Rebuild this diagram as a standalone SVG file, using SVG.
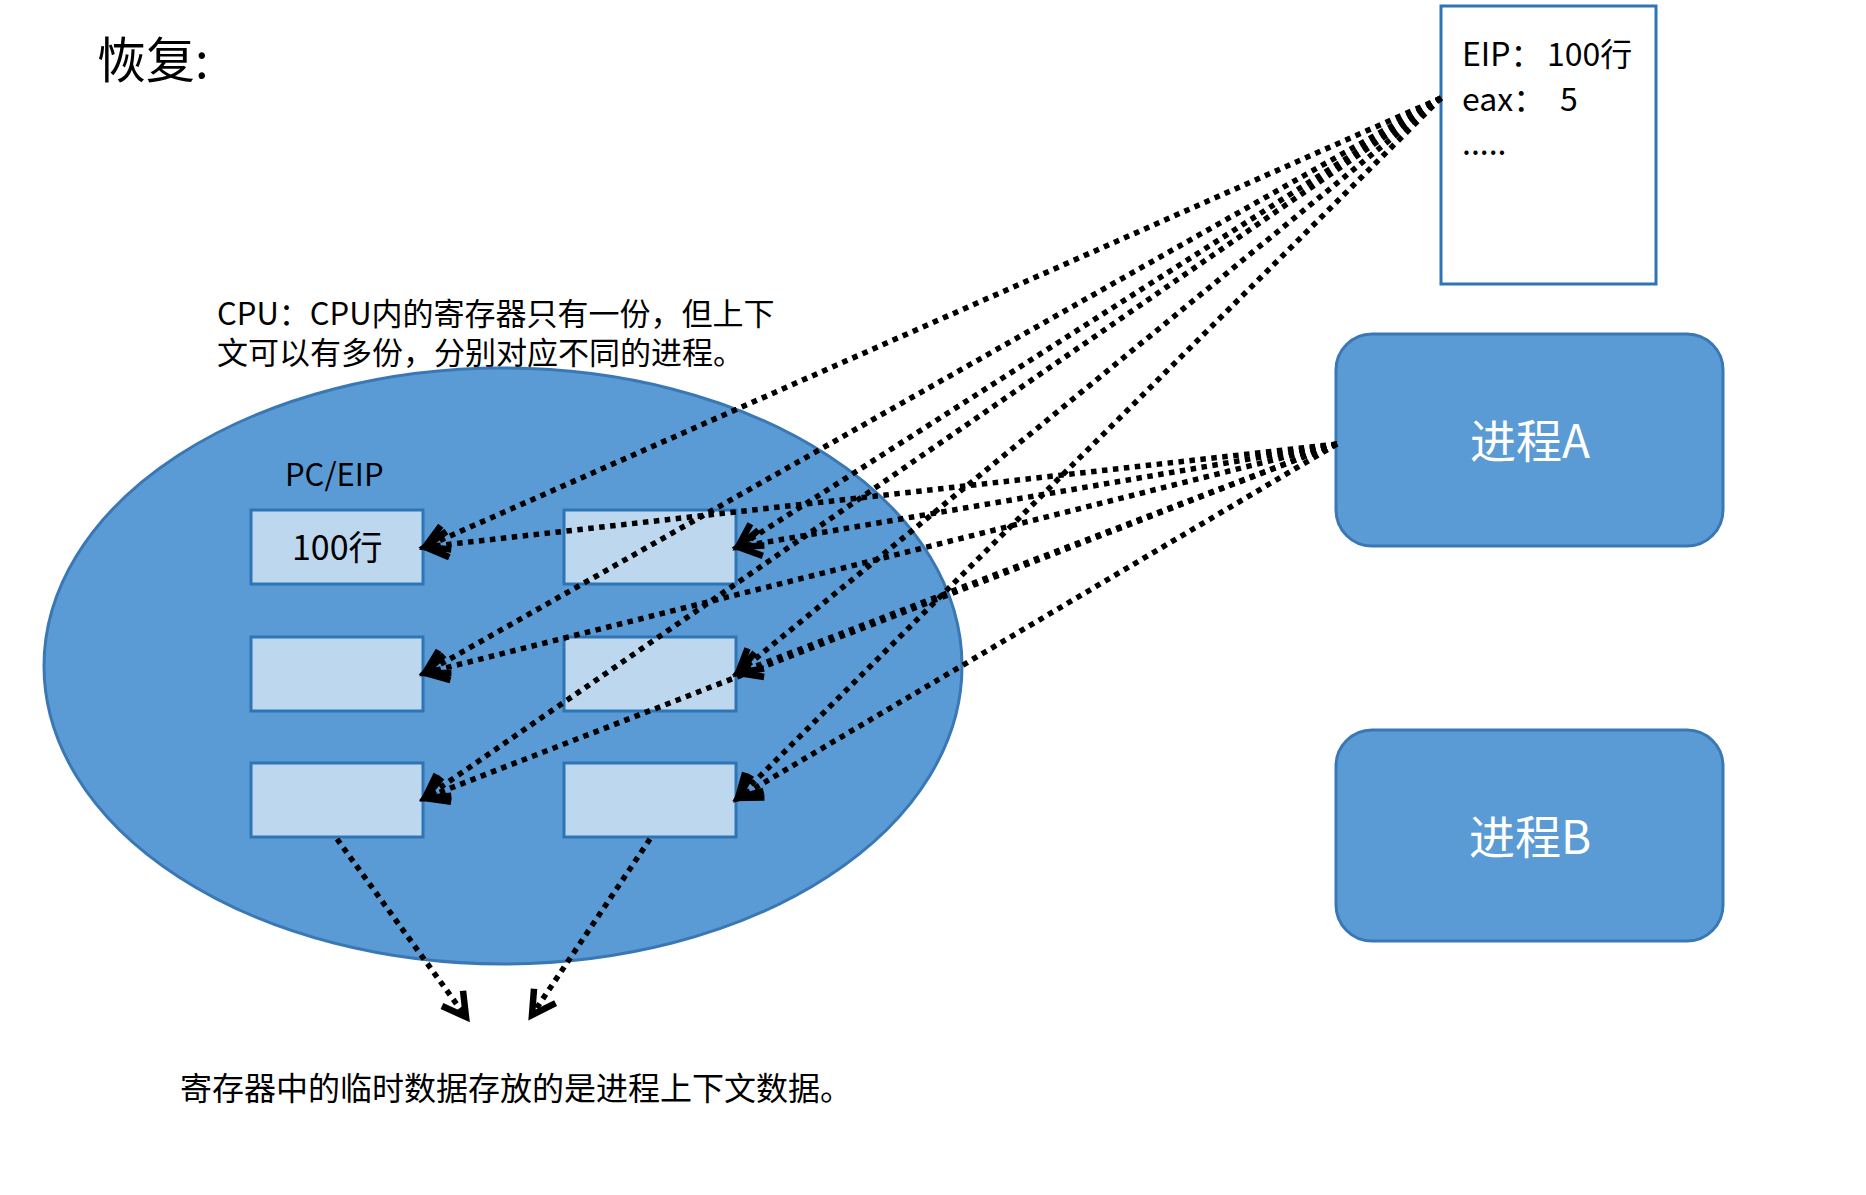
<svg xmlns="http://www.w3.org/2000/svg" width="1866" height="1195" viewBox="0 0 1866 1195">
<style>
text{font-family:"Noto Sans CJK SC","Noto Sans",sans-serif;fill:#000}
.reg{fill:#BDD7EE;stroke:#2E75B6;stroke-width:3}
.proc{fill:#5B9BD5;stroke:#3A78B5;stroke-width:3}
.ptxt{fill:#fff;font-size:46px;text-anchor:middle}
.conn line{stroke:#000;stroke-width:5.5;stroke-dasharray:5.5 5.5;fill:none;marker-end:url(#ah)}
</style>
<defs>
<marker id="ah" markerUnits="userSpaceOnUse" markerWidth="40" markerHeight="40" viewBox="0 0 40 40" refX="30" refY="20" orient="auto">
<path d="M7,7 L30,20 L7,33" fill="none" stroke="#000" stroke-width="6.5" stroke-linejoin="miter"/>
</marker>
</defs>
<rect width="1866" height="1195" fill="#fff"/>
<g id="title"><text x="97" y="78" font-size="49">恢复:</text></g>
<g id="cpu-note">
<text x="217" y="325" font-size="31">CPU：CPU内的寄存器只有一份，但上下<tspan x="217" dy="39">文可以有多份，分别对应不同的进程。</tspan></text>
</g>
<g id="cpu"><ellipse cx="503" cy="666" rx="459" ry="298" fill="#5B9BD5" stroke="#3A78B5" stroke-width="3"/></g>
<g id="pc-label"><text x="285" y="486" font-size="31">PC/EIP</text></g>
<g id="reg-1-1"><rect class="reg" x="251" y="510" width="172" height="74"/><text x="292" y="560" font-size="34">100行</text></g>
<g id="reg-1-2"><rect class="reg" x="564" y="510" width="172" height="74"/></g>
<g id="reg-2-1"><rect class="reg" x="251" y="637" width="172" height="74"/></g>
<g id="reg-2-2"><rect class="reg" x="564" y="637" width="172" height="74"/></g>
<g id="reg-3-1"><rect class="reg" x="251" y="763" width="172" height="74"/></g>
<g id="reg-3-2"><rect class="reg" x="564" y="763" width="172" height="74"/></g>
<g id="context">
<rect x="1441" y="6" width="215" height="278" fill="#fff" stroke="#2E75B6" stroke-width="3"/>
<text x="1462" y="66" font-size="32">EIP：<tspan x="1547">100行</tspan></text>
<text x="1462" y="111" font-size="32">eax：<tspan x="1560">5</tspan></text>
<text x="1462" y="155" font-size="32">.....</text>
</g>
<g id="procA"><rect class="proc" x="1336" y="334" width="387" height="212" rx="36"/><text class="ptxt" x="1530" y="458">进程A</text></g>
<g id="procB"><rect class="proc" x="1336" y="730" width="387" height="211" rx="36"/><text class="ptxt" x="1530" y="854">进程B</text></g>
<g id="note"><text x="180" y="1100" font-size="32">寄存器中的临时数据存放的是进程上下文数据。</text></g>
<g id="connectors" class="conn">
<line x1="1441" y1="98" x2="425" y2="547"/>
<line x1="1441" y1="98" x2="738" y2="547"/>
<line x1="1441" y1="98" x2="425" y2="673"/>
<line x1="1441" y1="98" x2="738" y2="673"/>
<line x1="1441" y1="98" x2="425" y2="798"/>
<line x1="1441" y1="98" x2="738" y2="798"/>
<line x1="1337" y1="444" x2="425" y2="547"/>
<line x1="1337" y1="444" x2="738" y2="547"/>
<line x1="1337" y1="444" x2="425" y2="673"/>
<line x1="1337" y1="444" x2="738" y2="673"/>
<line x1="1337" y1="444" x2="425" y2="798"/>
<line x1="1337" y1="444" x2="738" y2="798"/>
<line x1="337" y1="839" x2="466" y2="1017"/>
<line x1="650" y1="839" x2="532" y2="1015"/>
</g>
</svg>
